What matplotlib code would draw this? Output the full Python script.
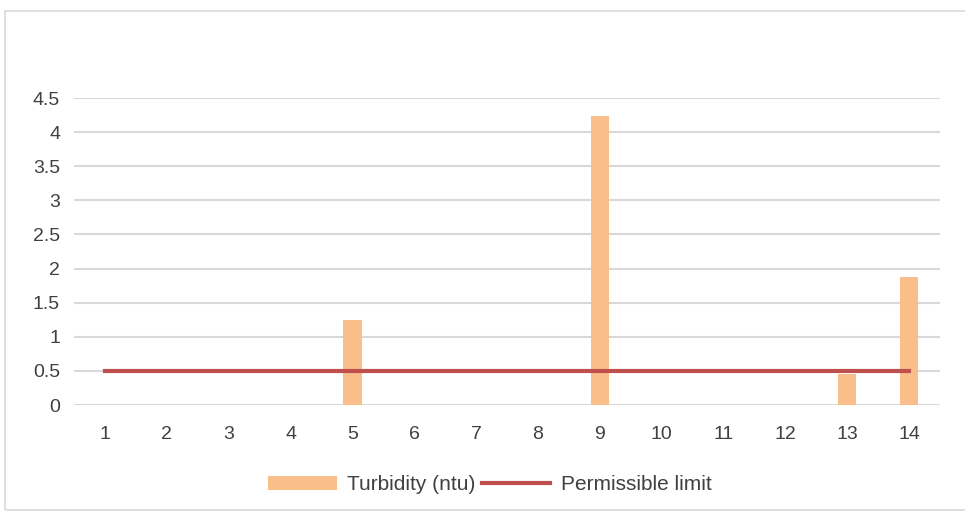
import numpy as np
import matplotlib.pyplot as plt
from matplotlib.patches import Rectangle

plt.rcParams['font.family'] = ['Liberation Sans', 'DejaVu Sans']

sites = [str(i) for i in range(1, 15)]
turbidity = [0, 0, 0, 0, 1.25, 0, 0, 0, 4.24, 0, 0, 0, 0.46, 1.88]
limit = [0.5] * 14
yticks = [0, 0.5, 1, 1.5, 2, 2.5, 3, 3.5, 4, 4.5]

fig = plt.figure(figsize=(9.65, 5.13), dpi=100)
ax = fig.add_axes([74 / 965, 108 / 513, 866 / 965, 307 / 513])

x = np.arange(len(sites))
bars = ax.bar(x, turbidity, width=0.3, color='#F9BE8A', label='Turbidity (ntu)', zorder=2)
line, = ax.plot(x, limit, color='#C0504D', lw=3, label='Permissible limit', zorder=3)

ax.set_xlim(-0.5, len(sites) - 0.5)
ax.set_ylim(0, 4.5)
ax.set_yticks(yticks)
ax.set_yticklabels([f'{v:g}' for v in yticks])
ax.set_xticks(x)
ax.set_xticklabels(sites)
ax.grid(axis='y', color='#D9D9D9', lw=1.5, zorder=0)
ax.set_axisbelow(True)
ax.tick_params(length=0, labelsize=14, labelcolor='#404040')
ax.tick_params(axis='y', pad=10)
ax.tick_params(axis='x', pad=15)
for s in ax.spines.values():
    s.set_visible(False)

ax.legend([bars, line], ['Turbidity (ntu)', 'Permissible limit'],
          loc='center', bbox_to_anchor=(0.48, -0.26), ncol=2, frameon=False,
          fontsize=15, labelcolor='#404040', handlelength=3.3, columnspacing=0.3,
          handletextpad=0.5)

# light frame around the chart area
fig.patches.append(Rectangle((5 / 965, 3 / 513), 1.0, 499 / 513, transform=fig.transFigure,
                             fill=False, edgecolor='#D9D9D9', lw=1.2))

fig.savefig('out.png', dpi=100)
